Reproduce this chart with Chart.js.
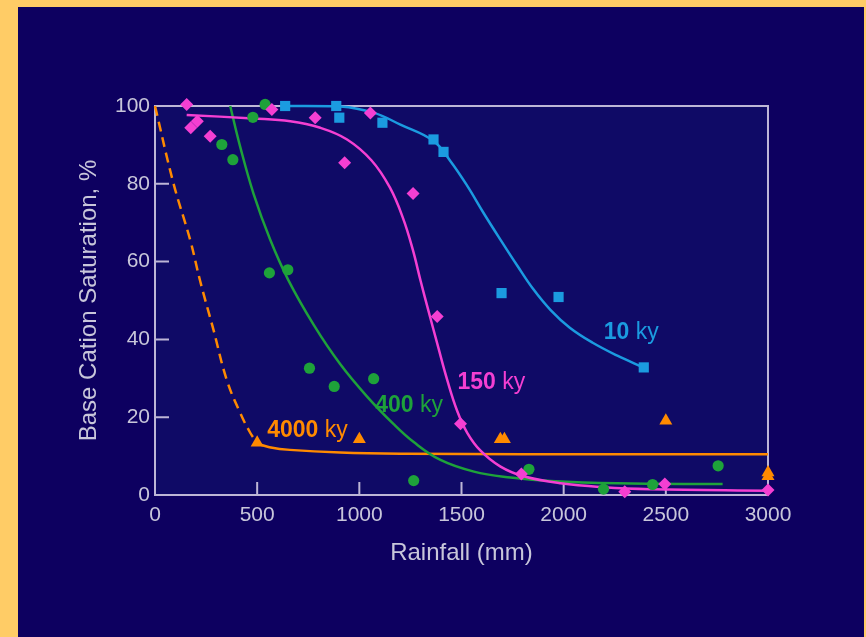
<!DOCTYPE html>
<html><head><meta charset="utf-8">
<script src="https://cdn.jsdelivr.net/npm/chart.js@4"></script>
<style>
html,body{margin:0;padding:0;background:#ffcc66;width:866px;height:637px;overflow:hidden}
#wrap{position:absolute;left:18px;top:7px;width:846px;height:630px;background:#0d0060}
canvas{display:block}
</style></head><body><div id="wrap"><canvas id="c" width="846" height="630" style="width:846px;height:630px"></canvas></div>
<script>
// ---- data ----
const xTickValues = [0, 500, 1000, 1500, 2000, 2500, 3000];
const yTickValues = [0, 20, 40, 60, 80, 100];

// 10 ky (squares)
const sq10x = [637, 887, 902, 1113, 1363, 1412, 1696, 1975, 2392];
const sq10y = [100, 100, 97, 95.7, 91.4, 88.2, 51.9, 50.9, 32.8];
const fit10x = [632, 907, 1069, 1201, 1363, 1446, 1529, 1608, 1691, 1775, 1850, 1935, 2030, 2140, 2263, 2392];
const fit10y = [100, 99.9, 98.3, 95.2, 91, 85.8, 79.4, 72.5, 65.6, 58.8, 53.0, 47.6, 43.0, 39.2, 35.8, 32.7];

// 150 ky (diamonds)
const dia150x = [155, 175, 207, 270, 572, 784, 928, 1054, 1263, 1381, 1495, 1793, 2299, 2495, 3000];
const dia150y = [100.4, 94.4, 96.1, 92.2, 99.1, 97, 85.4, 98.2, 77.5, 45.9, 18.3, 5.4, 0.85, 2.8, 1.3];
const fit150x = [155, 480, 662, 809, 940, 1060, 1150, 1215, 1262, 1300, 1340, 1385, 1430, 1479, 1528, 1593, 1691, 1804, 1985, 2196, 2426, 3000];
const fit150y = [97.7, 96.8, 96.1, 94.4, 91.4, 86.0, 79.0, 71.0, 63.0, 55.0, 47.0, 38.2, 29.6, 21.6, 16, 11.4, 7.3, 4.8, 3.0, 2.0, 1.5, 1.1];

// 400 ky (circles)
const cir400x = [539, 479, 327, 381, 560, 650, 756, 877, 1070, 1266, 1830, 2195, 2435, 2756];
const cir400y = [100.4, 97.1, 90.1, 86.2, 57.1, 57.9, 32.6, 27.9, 29.9, 3.7, 6.6, 1.5, 2.7, 7.5];
const fit400x = [368, 417, 482, 564, 652, 776, 907, 1038, 1168, 1266, 1397, 1561, 1740, 1936, 2263, 2778];
const fit400y = [100, 89.5, 77.5, 65.6, 55.3, 43.8, 33.6, 25.3, 18.2, 13.6, 9.0, 6.0, 4.5, 3.6, 3.0, 2.8];

// 4000 ky (triangles)
const tri4000x = [500, 1000, 1690, 1710, 2500, 3000, 3000];
const tri4000y = [13.4, 14.3, 14.3, 14.3, 19.1, 5.8, 4.8];
const fit4000x = [500, 560, 660, 907, 1233, 1800, 3000];
const fit4000y = [13.2, 12.3, 11.6, 10.9, 10.6, 10.5, 10.5];
const dash4000x = [0, 90, 172, 221, 286, 351, 417, 466, 500];
const dash4000y = [100, 80.2, 65.6, 55, 42.5, 29.6, 21.1, 16, 13.4];

const seriesNames = ['10', '150', '400', '4000'];
const seriesUnit = 'ky';

// ---- styling ----
const BLUE = '#1b9be0', MAG = '#f43fd2', GREEN = '#1ea23a', ORANGE = '#ff8a00';
const TXT = '#c8c6da', FRAME = '#bdb6d6';
const FONT = '"Liberation Sans", Arial, Helvetica, sans-serif';

const pts = (xs, ys) => xs.map((x, i) => ({x, y: ys[i]}));

function lineDS(xs, ys, color, dash) {
  return {type: 'line', data: pts(xs, ys), borderColor: color, borderWidth: 2.5,
    borderDash: dash || [], pointRadius: 0, fill: false, tension: 0.4,
    showLine: true, clip: false, order: 2};
}
function ptDS(xs, ys, color, style, r) {
  return {type: 'scatter', data: pts(xs, ys), backgroundColor: color, borderColor: color,
    borderWidth: 0, pointStyle: style, pointRadius: r, pointHoverRadius: r, clip: false, order: 1};
}

const labelPos = [
  {x: 2196, y: 40.2, color: BLUE},
  {x: 1480, y: 27.3, color: MAG},
  {x: 1078, y: 21.4, color: GREEN},
  {x: 549, y: 14.9, color: ORANGE}
];

const framePlugin = {
  id: 'framePlugin',
  beforeDatasetsDraw(chart) {
    const {ctx, chartArea: a, scales} = chart;
    ctx.save();
    ctx.fillStyle = '#0f0a66';
    ctx.fillRect(a.left, a.top, a.right - a.left, a.bottom - a.top);
    ctx.strokeStyle = FRAME;
    ctx.lineWidth = 2;
    ctx.strokeRect(a.left, a.top, a.right - a.left, a.bottom - a.top);
    ctx.beginPath();
    yTickValues.forEach(v => {
      const py = scales.y.getPixelForValue(v);
      ctx.moveTo(a.left, py); ctx.lineTo(a.left + 14, py);
    });
    xTickValues.forEach(v => {
      const px = scales.x.getPixelForValue(v);
      ctx.moveTo(px, a.bottom); ctx.lineTo(px, a.bottom - 13);
    });
    ctx.stroke();
    ctx.restore();
  },
  afterDatasetsDraw(chart) {
    const {ctx, scales} = chart;
    ctx.save();
    ctx.textBaseline = 'alphabetic';
    ctx.textAlign = 'left';
    labelPos.forEach((p, i) => {
      const px = scales.x.getPixelForValue(p.x);
      const py = scales.y.getPixelForValue(p.y);
      ctx.fillStyle = p.color;
      ctx.font = 'bold 23px ' + FONT;
      const num = seriesNames[i];
      ctx.fillText(num, px, py);
      const w = ctx.measureText(num + ' ').width;
      ctx.font = '23px ' + FONT;
      ctx.fillText(seriesUnit, px + w, py);
    });
    ctx.restore();
  }
};

new Chart(document.getElementById('c'), {
  data: {
    datasets: [
      lineDS(fit10x, fit10y, BLUE),
      lineDS(fit150x, fit150y, MAG),
      lineDS(fit400x, fit400y, GREEN),
      lineDS(fit4000x, fit4000y, ORANGE),
      lineDS(dash4000x, dash4000y, ORANGE, [10, 6]),
      ptDS(sq10x, sq10y, BLUE, 'rect', 7.2),
      ptDS(dia150x, dia150y, MAG, 'rectRot', 6.5),
      ptDS(cir400x, cir400y, GREEN, 'circle', 5.6),
      ptDS(tri4000x, tri4000y, ORANGE, 'triangle', 7.5)
    ]
  },
  options: {
    responsive: false,
    animation: false,
    events: [],
    layout: {padding: {left: 56.6, top: 99, right: 96, bottom: 69.6}},
    plugins: {legend: {display: false}, tooltip: {enabled: false}},
    scales: {
      x: {
        type: 'linear', min: 0, max: 3000,
        afterBuildTicks: s => { s.ticks = xTickValues.map(v => ({value: v})); },
        afterFit: s => { s.height = 72.4; },
        grid: {display: false, drawTicks: false},
        border: {display: false},
        ticks: {color: TXT, font: {family: FONT, size: 21}, padding: 8, maxRotation: 0, autoSkip: false,
                callback: v => String(v)},
        title: {display: true, text: 'Rainfall (mm)', color: TXT, font: {family: FONT, size: 24}, padding: 0}
      },
      y: {
        type: 'linear', min: 0, max: 100,
        afterBuildTicks: s => { s.ticks = yTickValues.map(v => ({value: v})); },
        afterFit: s => { s.width = 80.4; },
        grid: {display: false, drawTicks: false},
        border: {display: false},
        ticks: {color: TXT, font: {family: FONT, size: 21}, padding: 5, autoSkip: false,
                callback: v => String(v)},
        title: {display: true, text: 'Base Cation Saturation, %', color: TXT, font: {family: FONT, size: 24}, padding: 0}
      }
    }
  },
  plugins: [framePlugin]
});
</script></body></html>
